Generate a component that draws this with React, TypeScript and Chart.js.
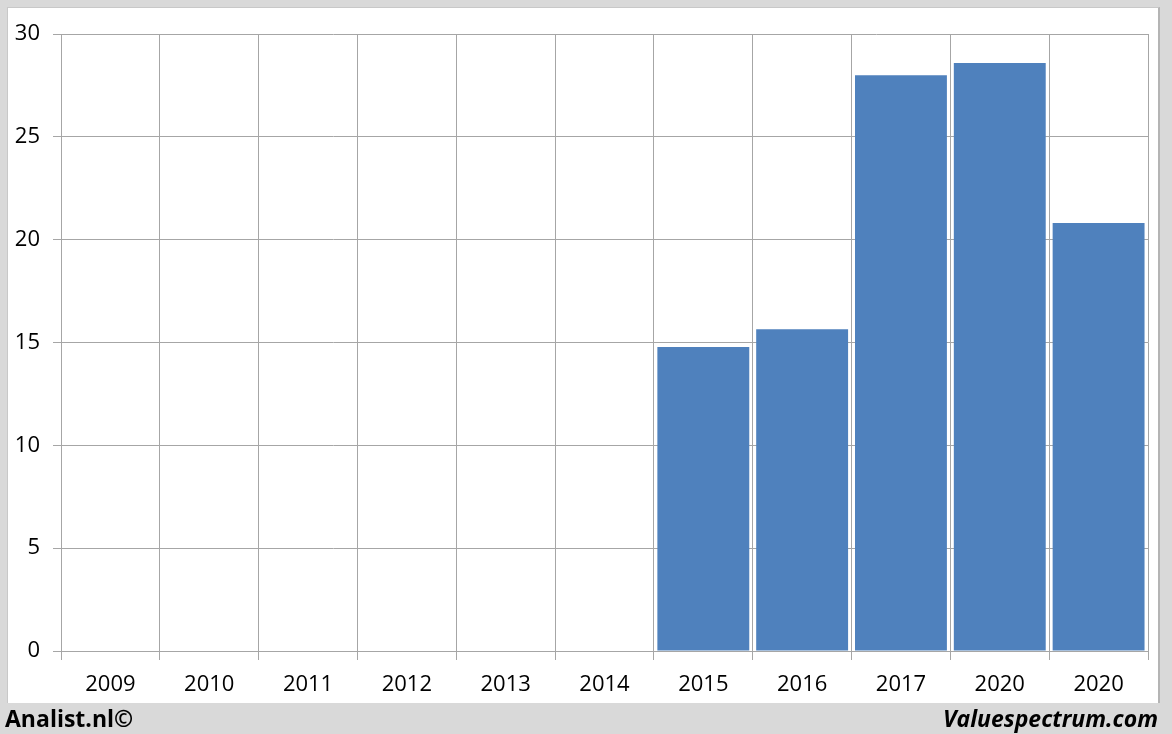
import React, { useEffect, useRef } from "react";
import { Chart, registerables } from "chart.js";

Chart.register(...registerables);

const categories = ["2009", "2010", "2011", "2012", "2013", "2014", "2015", "2016", "2017", "2020", "2020"];
const values: (number | null)[] = [null, null, null, null, null, null, 14.78, 15.65, 28.0, 28.59, 20.81];
const yTicks = [0, 5, 10, 15, 20, 25, 30];

const FONT = "'Open Sans', 'Noto Sans', sans-serif";
const GRID = "#a6a6a6";

export default function App() {
  const ref = useRef<HTMLCanvasElement | null>(null);

  useEffect(() => {
    document.body.style.margin = "0";
    const canvas = ref.current;
    if (!canvas) return;
    const chart = new Chart(canvas, {
      type: "bar",
      data: {
        labels: categories,
        datasets: [
          {
            data: values,
            backgroundColor: "#4f81bd",
            borderWidth: 0,
            barPercentage: 0.93,
            categoryPercentage: 1,
          },
        ],
      },
      options: {
        animation: false,
        responsive: false,
        maintainAspectRatio: false,
        layout: { padding: { top: 34, right: 24, left: 0, bottom: 0 } },
        plugins: { legend: { display: false }, tooltip: { enabled: false } },
        scales: {
          x: {
            offset: true,
            grid: { offset: true, color: GRID, lineWidth: 1, tickLength: 9, drawTicks: true },
            border: { color: GRID },
            ticks: { color: "#000", font: { family: FONT, size: 22 }, padding: 12, maxRotation: 0, autoSkip: false },
            afterFit: (s: any) => {
              s.height = 83;
            },
          },
          y: {
            min: 0,
            max: 30,
            afterBuildTicks: (s: any) => {
              s.ticks = yTicks.map((v) => ({ value: v }));
            },
            grid: { color: GRID, lineWidth: 1, tickLength: 8 },
            border: { color: GRID },
            ticks: { color: "#000", font: { family: FONT, size: 22 }, padding: 13 },
            afterFit: (s: any) => {
              s.width = 61;
            },
          },
        },
      },
    });
    return () => chart.destroy();
  }, []);

  return (
    <div style={{ position: "fixed", left: 0, top: 0, width: 1172, height: 734, background: "#d9d9d9", overflow: "hidden" }}>
      <div
        style={{
          position: "absolute",
          left: 7,
          top: 7,
          width: 1153,
          height: 696,
          background: "#fff",
          borderTop: "1px solid #c8c8c8",
          borderLeft: "1px solid #c8c8c8",
          borderRight: "2px solid #b4b4b4",
          boxSizing: "border-box",
        }}
      />
      <canvas ref={ref} width={1172} height={734} style={{ position: "absolute", left: 0, top: 0 }} />
      <div
        style={{
          position: "absolute",
          left: 5,
          top: 703,
          fontFamily: FONT,
          fontWeight: 700,
          fontSize: 23,
          color: "#000",
          lineHeight: "30px",
        }}
      >
        Analist.nl©
      </div>
      <div
        style={{
          position: "absolute",
          right: 14,
          top: 703,
          fontFamily: FONT,
          fontWeight: 700,
          fontStyle: "italic",
          fontSize: 23,
          color: "#000",
          lineHeight: "30px",
        }}
      >
        Valuespectrum.com
      </div>
    </div>
  );
}
